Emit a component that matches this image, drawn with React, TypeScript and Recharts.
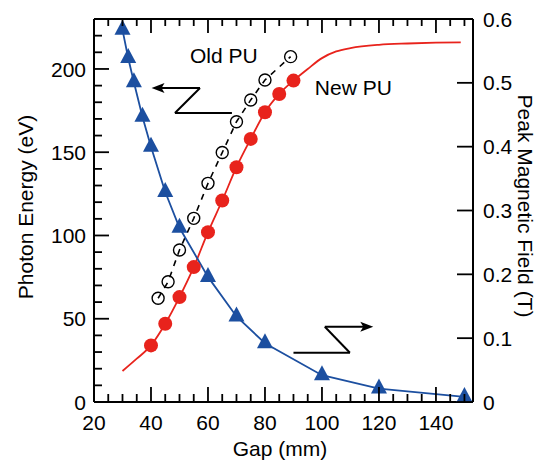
import React from 'react';
import { LineChart, Line, XAxis, YAxis, ReferenceLine, ReferenceDot, Customized } from 'recharts';

const FONT = '"Liberation Sans", Arial, sans-serif';
const BLUE = '#1c4fa0';
const RED = '#e8231c';

// peak magnetic field (T) vs gap (mm), right axis
const fieldGap = [30, 32, 34, 37, 40, 45, 50, 60, 70, 80, 100, 120, 150];
const fieldT = [0.583, 0.539, 0.501, 0.447, 0.4, 0.329, 0.273, 0.196, 0.134, 0.092, 0.042, 0.021, 0.008];

// new PU, measured photon energy (eV)
const newGap = [40, 45, 50, 55, 60, 65, 70, 75, 80, 85, 90];
const newEv = [34, 47, 63, 81, 102, 121, 141, 158, 174, 185, 193];

// new PU, calculated curve
const fitGap = [30, 35, 40, 45, 50, 55, 60, 65, 70, 75, 80, 85, 90, 95, 100, 105, 110, 120, 130, 140, 148.7];
const fitEv = [18.6, 26, 34, 47, 63, 81, 102, 121, 141, 158, 174, 185, 193, 200, 206.5, 210.5, 212.5, 214.5, 215.3, 215.8, 216];

// old PU
const oldGap = [42.5, 46, 50, 55, 60, 65, 70, 75, 80, 89];
const oldEv = [62.3, 72.2, 91.3, 110.3, 131.3, 149.8, 168.3, 181.4, 193.4, 207.4];

const gapTicks = [20, 25, 30, 35, 40, 45, 50, 55, 60, 65, 70, 75, 80, 85, 90, 95, 100, 105, 110, 115, 120, 125, 130, 135, 140, 145, 150];
const evTicks = [0, 10, 20, 30, 40, 50, 60, 70, 80, 90, 100, 110, 120, 130, 140, 150, 160, 170, 180, 190, 200, 210, 220, 230];
const fieldTicks = [0, 0.1, 0.2, 0.3, 0.4, 0.5, 0.6];

const fieldData = fieldGap.map((g, i) => ({ gap: g, t: fieldT[i] }));
const newData = newGap.map((g, i) => ({ gap: g, ev: newEv[i] }));
const fitData = fitGap.map((g, i) => ({ gap: g, ev: fitEv[i] }));
const oldData = oldGap.map((g, i) => ({ gap: g, ev: oldEv[i] }));

const txt = { fontSize: 21, fontFamily: FONT, fill: '#000' };

const BottomTick = ({ x, y, payload }: any) => {
    const major = payload.value % 20 === 0;
    return (
        <g>
            <line x1={x} x2={x} y1={y} y2={y - (major ? 15 : 8)} stroke="#000" strokeWidth={1.8} />
            {major && payload.value <= 140 && (
                <text x={x} y={y + 28} textAnchor="middle" {...txt}>{payload.value}</text>
            )}
        </g>
    );
};

const TopTick = ({ x, y, payload }: any) => {
    const major = payload.value % 20 === 0;
    return <line x1={x} x2={x} y1={y} y2={y + (major ? 14 : 7)} stroke="#000" strokeWidth={1.8} />;
};

const LeftTick = ({ x, y, payload }: any) => {
    const major = payload.value % 50 === 0;
    return (
        <g>
            <line x1={x} x2={x + (major ? 15 : 8)} y1={y} y2={y} stroke="#000" strokeWidth={1.8} />
            {major && (
                <text x={x - 8} y={y} dy="0.36em" textAnchor="end" {...txt}>{payload.value}</text>
            )}
        </g>
    );
};

const RightTick = ({ x, y, payload }: any) => (
    <g>
        <line x1={x} x2={x - 16} y1={y} y2={y} stroke="#000" strokeWidth={1.8} />
        <text x={x + 10} y={y} dy="0.36em" textAnchor="start" {...txt}>
            {payload.value === 0 ? '0' : payload.value.toFixed(1)}
        </text>
    </g>
);

const Triangle = (p: any) => {
    const { cx, cy, index } = p;
    return <path key={`tri-${index}`} d={`M${cx},${cy - 10}L${cx + 8},${cy + 5}L${cx - 8},${cy + 5}Z`} fill={BLUE} />;
};

const OpenCircle = (p: any) => {
    const { cx, cy, index } = p;
    return <circle key={`oc-${index}`} cx={cx} cy={cy} r={6} fill="none" stroke="#000" strokeWidth={1.4} />;
};

const HeadLeft = ({ cx, cy }: any) => <path d={`M${cx},${cy}L${cx + 13},${cy - 5}L${cx + 10},${cy}L${cx + 13},${cy + 5}Z`} fill="#000" />;
const HeadRight = ({ cx, cy }: any) => <path d={`M${cx},${cy}L${cx - 13},${cy - 5}L${cx - 10},${cy}L${cx - 13},${cy + 5}Z`} fill="#000" />;

const Note = (value: string) => ({ cx, cy }: any) => (
    <text x={cx} y={cy} textAnchor="start" {...txt}>{value}</text>
);

const Titles = () => (
    <g>
        <text x={280} y={456} textAnchor="middle" {...txt}>Gap (mm)</text>
        <text x={25} y={207} transform="rotate(-90, 25, 207)" textAnchor="middle" dominantBaseline="central" {...txt}>Photon Energy (eV)</text>
        <text x={525} y={206} transform="rotate(90, 525, 206)" textAnchor="middle" dominantBaseline="central" {...txt}>Peak Magnetic Field (T)</text>
    </g>
);

const seg = { xAxisId: 'b', yAxisId: 'l', stroke: '#000', strokeWidth: 2 };

export default function App() {
    return (
        <div style={{ position: 'absolute', left: 0, top: 0, background: '#fff' }}>
            <LineChart width={544} height={465} margin={{ top: 0, right: 0, bottom: 0, left: 0 }}>
                <XAxis xAxisId="b" dataKey="gap" type="number" domain={[20, 153]} allowDataOverflow ticks={gapTicks}
                    interval={0} tickSize={0} tickMargin={0} tick={BottomTick} height={63}
                    axisLine={{ stroke: '#000', strokeWidth: 2 }} />
                <XAxis xAxisId="t" orientation="top" dataKey="gap" type="number" domain={[20, 153]} allowDataOverflow ticks={gapTicks}
                    interval={0} tickSize={0} tickMargin={0} tick={TopTick} height={19}
                    axisLine={{ stroke: '#000', strokeWidth: 2 }} />
                <YAxis yAxisId="l" type="number" domain={[0, 230]} allowDataOverflow ticks={evTicks}
                    interval={0} tickSize={0} tickMargin={0} tick={LeftTick} width={94}
                    axisLine={{ stroke: '#000', strokeWidth: 2 }} />
                <YAxis yAxisId="r" orientation="right" type="number" domain={[0, 0.6]} allowDataOverflow ticks={fieldTicks}
                    interval={0} tickSize={0} tickMargin={0} tick={RightTick} width={71}
                    axisLine={{ stroke: '#000', strokeWidth: 2 }} />

                <Line xAxisId="b" yAxisId="l" data={fitData} dataKey="ev" type="monotone" stroke={RED} strokeWidth={1.8}
                    dot={false} activeDot={false} isAnimationActive={false} />
                <Line xAxisId="b" yAxisId="l" data={newData} dataKey="ev" stroke="none"
                    dot={{ r: 7, fill: RED, stroke: 'none' }} activeDot={false} isAnimationActive={false} />
                <Line xAxisId="b" yAxisId="l" data={oldData} dataKey="ev" stroke="#000" strokeWidth={1.6} strokeDasharray="6 6"
                    dot={OpenCircle} activeDot={false} isAnimationActive={false} />
                <Line xAxisId="b" yAxisId="r" data={fieldData} dataKey="t" stroke={BLUE} strokeWidth={1.8}
                    dot={Triangle} activeDot={false} isAnimationActive={false} />

                {/* arrow to the left axis */}
                <ReferenceLine {...seg} segment={[{ x: 43, y: 188.6 }, { x: 57.2, y: 188.6 }]} />
                <ReferenceLine {...seg} segment={[{ x: 57.2, y: 188.6 }, { x: 48.4, y: 173.6 }]} />
                <ReferenceLine {...seg} segment={[{ x: 48.4, y: 173.6 }, { x: 68.4, y: 173.6 }]} />
                <ReferenceDot xAxisId="b" yAxisId="l" x={40.2} y={188.6} r={0} shape={HeadLeft} />

                {/* arrow to the right axis */}
                <ReferenceLine {...seg} segment={[{ x: 90, y: 29.6 }, { x: 109.8, y: 29.6 }]} />
                <ReferenceLine {...seg} segment={[{ x: 109.8, y: 29.6 }, { x: 101, y: 45.2 }]} />
                <ReferenceLine {...seg} segment={[{ x: 101, y: 45.2 }, { x: 115, y: 45.2 }]} />
                <ReferenceDot xAxisId="b" yAxisId="l" x={118} y={45.2} r={0} shape={HeadRight} />

                <ReferenceDot xAxisId="b" yAxisId="l" x={53.7} y={203.6} r={0} shape={Note('Old PU')} />
                <ReferenceDot xAxisId="b" yAxisId="l" x={97.5} y={184.4} r={0} shape={Note('New PU')} />

                <Customized component={<Titles />} />
            </LineChart>
        </div>
    );
}
